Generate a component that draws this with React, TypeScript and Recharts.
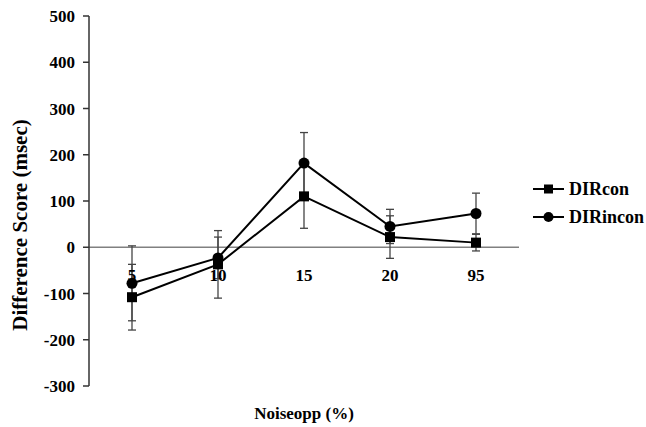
import React from 'react';
import {
  ComposedChart,
  Line,
  XAxis,
  YAxis,
  ErrorBar,
  ReferenceLine,
  Legend,
  LabelList,
} from 'recharts';

const categories = ['5', '10', '15', '20', '95'];
const dirCon = [-108, -37, 110, 22, 10];
const dirConErr = [71, 73, 69, 46, 18];
const dirIncon = [-78, -23, 182, 45, 73];
const dirInconErr = [81, 45, 66, 37, 44];
const baseline = [0, 0, 0, 0, 0];
const yTicks = [-300, -200, -100, 0, 100, 200, 300, 400, 500];

const seriesNames = { con: 'DIRcon', incon: 'DIRincon' };

const data = categories.map((c, i) => ({
  x: c,
  con: dirCon[i],
  conErr: dirConErr[i],
  incon: dirIncon[i],
  inconErr: dirInconErr[i],
  zero: baseline[i],
}));

const FONT = "'Liberation Serif', 'DejaVu Serif', serif";

const SquareDot = (props: any) => {
  const { cx, cy } = props;
  if (cx == null || cy == null) return null;
  return <rect x={cx - 5} y={cy - 5} width={10} height={10} fill="#000" />;
};

const CircleDot = (props: any) => {
  const { cx, cy } = props;
  if (cx == null || cy == null) return null;
  return <circle cx={cx} cy={cy} r={5.5} fill="#000" />;
};

const YLabel = (props: any) => {
  const vb = props.viewBox || { x: 29, y: 16, width: 60, height: 370 };
  const cx = vb.x - 9;
  const cy = vb.y + vb.height / 2 + 24;
  return (
    <text
      x={cx}
      y={cy}
      transform={`rotate(-90 ${cx} ${cy})`}
      textAnchor="middle"
      dominantBaseline="central"
      style={{ fontFamily: FONT, fontWeight: 'bold', fontSize: 21 }}
      fill="#000"
    >
      Difference Score (msec)
    </text>
  );
};

const XLabel = (props: any) => {
  const vb = props.viewBox || { x: 89, y: 386, width: 430, height: 41 };
  const cx = vb.x + vb.width / 2;
  const cy = vb.y + 27;
  return (
    <text
      x={cx}
      y={cy}
      textAnchor="middle"
      dominantBaseline="central"
      style={{ fontFamily: FONT, fontWeight: 'bold', fontSize: 17 }}
      fill="#000"
    >
      Noiseopp (%)
    </text>
  );
};

const LegendContent = () => {
  const items = [
    { key: 'con', name: seriesNames.con, shape: 'square' },
    { key: 'incon', name: seriesNames.incon, shape: 'circle' },
  ];
  return (
    <div style={{ fontFamily: FONT }}>
      {items.map((it) => (
        <div
          key={it.key}
          style={{ display: 'flex', alignItems: 'center', height: 28 }}
        >
          <svg width={31} height={12} style={{ display: 'block' }}>
            <line x1={0} y1={6} x2={31} y2={6} stroke="#000" strokeWidth={2} />
            {it.shape === 'square' ? (
              <rect x={11} y={1.5} width={9} height={9} fill="#000" />
            ) : (
              <circle cx={15.5} cy={6} r={5} fill="#000" />
            )}
          </svg>
          <span
            style={{
              marginLeft: 5,
              fontSize: 18,
              fontWeight: 'bold',
              color: '#000',
              lineHeight: '20px',
              fontFamily: FONT,
            }}
          >
            {it.name}
          </span>
        </div>
      ))}
    </div>
  );
};

export default function App() {
  return (
    <div style={{ width: 646, height: 427, background: '#fff', fontFamily: FONT }}>
      <style>{'body{margin:0;background:#fff;}'}</style>
      <ComposedChart
        width={646}
        height={427}
        data={data}
        margin={{ top: 16, right: 127, bottom: 0, left: 29 }}
        style={{ fontFamily: FONT }}
      >
        <XAxis
          dataKey="x"
          type="category"
          scale="point"
          padding={{ left: 43, right: 43 }}
          height={41}
          axisLine={false}
          tickLine={false}
          tick={false}
          label={<XLabel />}
        />
        <YAxis
          type="number"
          domain={[-300, 500]}
          ticks={yTicks}
          interval={0}
          width={60}
          tickSize={6}
          tickMargin={8}
          axisLine={{ stroke: '#333', strokeWidth: 1.5 }}
          tickLine={{ stroke: '#333', strokeWidth: 1.5 }}
          tick={{
            style: { fontFamily: FONT, fontWeight: 'bold', fontSize: 17 },
            fill: '#000',
          }}
          label={<YLabel />}
        />
        <ReferenceLine y={0} stroke="#808080" strokeWidth={1.5} ifOverflow="extendDomain" />
        <Line
          dataKey="zero"
          stroke="none"
          dot={false}
          activeDot={false}
          legendType="none"
          isAnimationActive={false}
        >
          <LabelList
            dataKey="x"
            position="bottom"
            offset={22}
            fill="#000"
            style={{ fontFamily: FONT, fontWeight: 'bold', fontSize: 17 }}
          />
        </Line>
        <Line
          dataKey="con"
          name={seriesNames.con}
          stroke="#000"
          strokeWidth={2}
          dot={<SquareDot />}
          activeDot={false}
          isAnimationActive={false}
        >
          <ErrorBar dataKey="conErr" width={4} stroke="#444" strokeWidth={1.3} />
        </Line>
        <Line
          dataKey="incon"
          name={seriesNames.incon}
          stroke="#000"
          strokeWidth={2}
          dot={<CircleDot />}
          activeDot={false}
          isAnimationActive={false}
        >
          <ErrorBar dataKey="inconErr" width={4} stroke="#444" strokeWidth={1.3} />
        </Line>
        <Legend
          layout="vertical"
          align="center"
          verticalAlign="middle"
          content={<LegendContent />}
          wrapperStyle={{ left: 533, top: 175, width: 113 }}
        />
      </ComposedChart>
    </div>
  );
}
